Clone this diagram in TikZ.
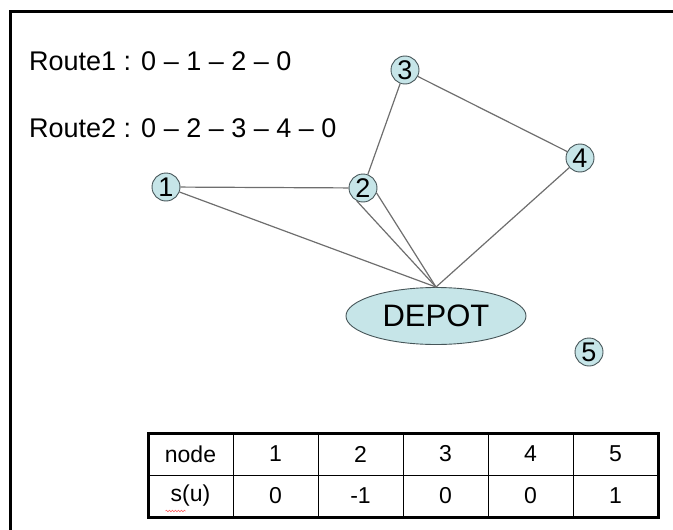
\documentclass[tikz,border=0pt]{standalone}
\usepackage{fontspec}
\setmainfont{Liberation Sans}
\usetikzlibrary{positioning,shapes.geometric,decorations.pathmorphing}
\definecolor{nodefill}{RGB}{198,229,232}
\definecolor{nodeline}{RGB}{70,85,88}
\definecolor{edgegray}{RGB}{110,110,110}

\begin{document}
\begin{tikzpicture}[x=1pt, y=-1pt,
  cust/.style={circle, draw=nodeline, fill=nodefill, line width=0.9pt, inner sep=0pt,
    minimum size=28pt, font=\fontsize{27}{27}\selectfont},
  depotnode/.style={ellipse, draw=nodeline, fill=nodefill, line width=0.9pt,
    minimum width=180pt, minimum height=57pt, font=\fontsize{31}{31}\selectfont},
  edge/.style={draw=edgegray, line width=1.2pt},
  cell/.style={draw, line width=0.9pt, minimum width=85pt, minimum height=42pt,
    inner sep=0pt, outer sep=0pt, font=\fontsize{23}{23}\selectfont},
  route/.style={anchor=base west, inner sep=0pt, font=\fontsize{27}{27}\selectfont}]
\clip (0,0) rectangle (673,530);
\draw[line width=3pt] (10,11) rectangle (690,545);

% route labels
\node[route] (r1) at (29,70) {Route1 : 0 -- 1 -- 2 -- 0};
\node[route] (r2) at (29,137) {Route2 : 0 -- 2 -- 3 -- 4 -- 0};

% customers and depot
\node[cust] (n1) at (166,187) {1};
\node[cust] (n2) at (363,188) {2};
\node[cust] (n3) at (405,70) {3};
\node[cust] (n4) at (580,158) {4};
\node[cust] (n5) at (589,352) {5};
\node[depotnode] (depot) at (436,316) {DEPOT};

\draw[edge] (n1) -- (n2);
\draw[edge] (n1) -- (depot.north);
\draw[edge] (n2.-115) -- (depot.north);
\draw[edge] (n2.-20) -- (depot.north);
\draw[edge] (n2) -- (n3);
\draw[edge] (n3) -- (n4);
\draw[edge] (n4) -- (depot.north);

% table of s(u)
\node[cell] (tn) at (190.5,454) {node};
\node[cell, right=0pt of tn] (t1) {1};
\node[cell, right=0pt of t1] (t2) {2};
\node[cell, right=0pt of t2] (t3) {3};
\node[cell, right=0pt of t3] (t4) {4};
\node[cell, right=0pt of t4] (t5) {5};
\node[cell, below=0pt of tn] (sn) {s(u)};
\node[cell, right=0pt of sn] (s1) {0};
\node[cell, right=0pt of s1] (s2) {-1};
\node[cell, right=0pt of s2] (s3) {0};
\node[cell, right=0pt of s3] (s4) {0};
\node[cell, right=0pt of s4] (s5) {1};
\draw[line width=3pt] (tn.north west) rectangle (s5.south east);
\draw[red!60, line width=0.6pt, decorate, decoration={snake, amplitude=0.8pt, segment length=3pt}]
  ([shift={(-25,15)}]sn.center) -- ++(20,0);
\end{tikzpicture}
\end{document}
